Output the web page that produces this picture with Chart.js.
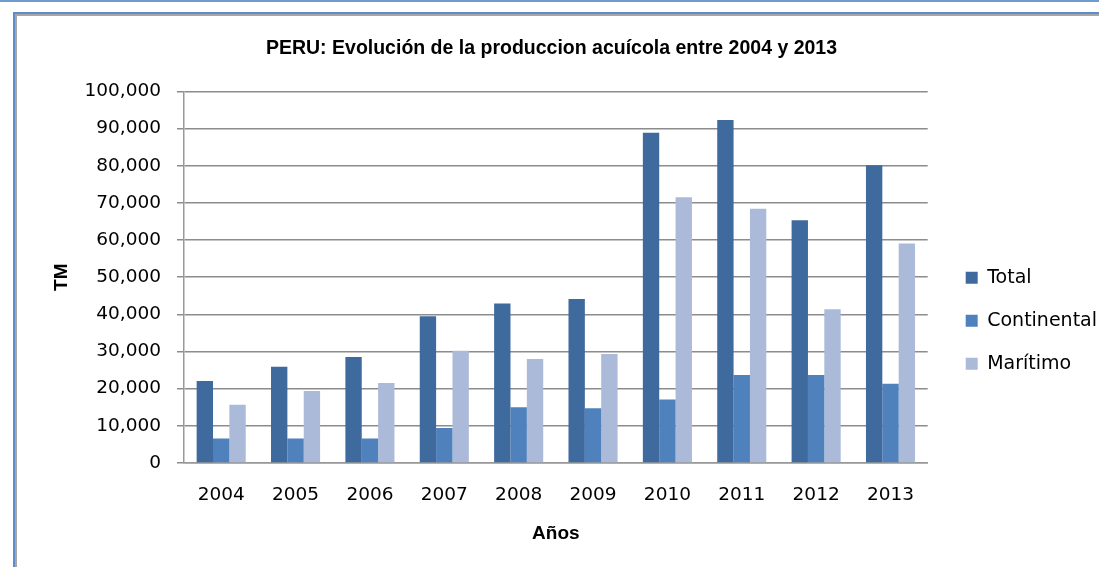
<!DOCTYPE html>
<html>
<head>
<meta charset="utf-8">
<script src="https://cdn.jsdelivr.net/npm/chart.js@4.4.1/dist/chart.umd.min.js"></script>
<style>
  html, body { margin: 0; padding: 0; background: #fff; }
  #wrap { position: relative; width: 1099px; height: 567px; overflow: hidden; }
  #topline { position: absolute; left: 0; top: 0; width: 1099px; height: 2px; background: #6f9bd0; }
  #box { position: absolute; left: 13px; top: 12px; width: 1200px; height: 700px;
         border-left: 2px solid #5f8ccb; border-top: 2px solid #5f8ccb; }
  #inner { position: absolute; left: 0; top: 0; width: 100%; height: 100%;
           border-left: 2px solid #a6a6a6; border-top: 2px solid #a6a6a6; }
  canvas { position: absolute; left: 0; top: 0; }
</style>
</head>
<body>
<div id="wrap">
  <div id="topline"></div>
  <div id="box"><div id="inner"></div></div>
  <canvas id="chart" width="1099" height="567"></canvas>
</div>
<script>
// datos (TM)
const years = ['2004', '2005', '2006', '2007', '2008', '2009', '2010', '2011', '2012', '2013'];
const total = [22100, 25900, 28500, 39500, 42900, 44100, 88900, 92300, 65300, 80100];
const continental = [6600, 6600, 6600, 9400, 15000, 14700, 17100, 23700, 23700, 21300];
const maritimo = [15700, 19400, 21500, 30200, 28000, 29300, 71500, 68400, 41400, 59100];
const yTicks = [0, 10000, 20000, 30000, 40000, 50000, 60000, 70000, 80000, 90000, 100000];

const FONT = 'DejaVu Sans';
const BOLD = 'Liberation Sans';

// mueve la leyenda un poco (como en Excel)
const legendShift = {
  id: 'legendShift',
  afterLayout(chart) {
    const l = chart.legend;
    l.left += 14; l.right += 14;
    l.top += 37; l.bottom += 37;
  }
};

const ctx = document.getElementById('chart').getContext('2d');

new Chart(ctx, {
  type: 'bar',
  data: {
    labels: years,
    datasets: [
      { label: 'Total', data: total, backgroundColor: '#3f6a9d' },
      { label: 'Continental', data: continental, backgroundColor: '#4f81bd' },
      { label: 'Marítimo', data: maritimo, backgroundColor: '#abbad8' }
    ]
  },
  plugins: [legendShift],
  options: {
    responsive: false,
    animation: false,
    layout: { padding: { left: 10, right: 6, top: 22, bottom: 21.6 } },
    datasets: {
      bar: { categoryPercentage: 0.66, barPercentage: 1.0 }
    },
    plugins: {
      title: {
        display: true,
        text: 'PERU: Evolución de la produccion acuícola entre 2004 y 2013',
        color: '#000',
        font: { family: BOLD, size: 19.5, weight: 'bold' },
        padding: { top: 15, bottom: 31 }
      },
      legend: {
        position: 'right',
        labels: {
          color: '#000',
          font: { family: FONT, size: 19 },
          boxWidth: 12,
          boxHeight: 12,
          padding: 24
        }
      },
      tooltip: { enabled: false }
    },
    scales: {
      x: {
        afterFit: s => { s.height = 82.4; },
        grid: { display: false, drawTicks: false },
        border: { display: true, color: '#999999', width: 1.5 },
        ticks: { color: '#000', font: { family: FONT, size: 18.5 }, padding: 21 },
        title: {
          display: true,
          text: 'Años',
          color: '#000',
          font: { family: BOLD, size: 19, weight: 'bold' },
          padding: { top: 4, bottom: 0 }
        }
      },
      y: {
        min: 0,
        max: 100000,
        afterFit: s => { s.width = 174; },
        afterBuildTicks: s => { s.ticks = yTicks.map(v => ({ value: v })); },
        grid: { color: '#8c8c8c', lineWidth: 1.5, tickLength: 7 },
        border: { display: true, color: '#999999', width: 1.5 },
        ticks: {
          color: '#000',
          font: { family: FONT, size: 18.5 },
          padding: 16,
          callback: v => v.toLocaleString('en-US')
        },
        title: {
          display: true,
          text: 'TM',
          color: '#000',
          font: { family: BOLD, size: 19, weight: 'bold' },
          padding: { top: 40.6, bottom: 0 }
        }
      }
    }
  }
});
</script>
</body>
</html>
